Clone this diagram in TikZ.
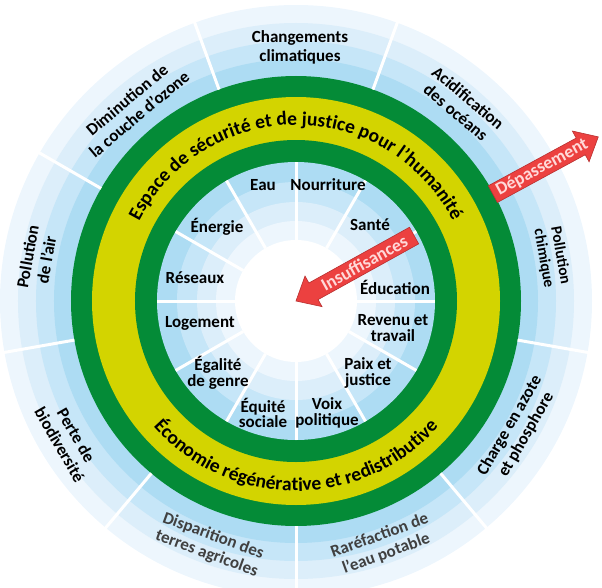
\documentclass[tikz,border=0pt]{standalone}
\usepackage{fontspec}
\setmainfont{Carlito}
\usetikzlibrary{decorations.text}
\definecolor{bandA}{HTML}{ADDCF3}
\definecolor{bandB}{HTML}{C6E6F8}
\definecolor{bandC}{HTML}{DCEEFA}
\definecolor{bandD}{HTML}{EDF6FD}
\definecolor{ringgreen}{HTML}{048B37}
\definecolor{ringyellow}{HTML}{D3D400}
\definecolor{arrowred}{HTML}{EC4140}
\definecolor{arrowedge}{HTML}{B83030}
\definecolor{arrowtext}{HTML}{FFD9D9}
\definecolor{graytext}{HTML}{404040}
\newcommand\lblfont{\bfseries\fontsize{17}{19}\selectfont}
\newcommand\inlblfont{\bfseries\fontsize{17}{15.5}\selectfont}
\newcommand\smallfont{\bfseries\fontsize{15.5}{17}\selectfont}
\newcommand\arcfont{\bfseries\fontsize{19.5}{19.5}\selectfont}
\begin{document}
\begin{tikzpicture}[x=1pt,y=1pt,
  divider/.style={draw=white, line width=3pt},
  outerlbl/.style={font=\lblfont, align=center, text=black, inner sep=0pt},
  innerlbl/.style={font=\inlblfont, align=center, text=black, inner sep=0pt},
  arrowbody/.style={fill=arrowred, draw=arrowedge, line width=0.6pt, line join=miter},
  arrowlbl/.style={font=\bfseries\fontsize{18}{18}\selectfont, text=arrowtext, inner sep=0pt, transform shape}]
\useasboundingbox (-296,-286) rectangle (306,301);
\clip (-296,-286) rectangle (306,301);
% outer bands
\fill[bandD] (0,0) circle (296);
\fill[bandC] (0,0) circle (278);
\fill[bandB] (0,0) circle (260);
\fill[bandA] (0,0) circle (242);
% rings
\fill[ringgreen] (0,0) circle (225);
\fill[ringyellow] (0,0) circle (204);
\fill[ringgreen] (0,0) circle (161);
% inner bands
\fill[bandA] (0,0) circle (139);
\fill[bandB] (0,0) circle (119);
\fill[bandC] (0,0) circle (99);
\fill[bandD] (0,0) circle (80);
\fill[white] (0,0) circle (61);
% dividers
\foreach \a in {30,70,...,350} \draw[divider] (\a:225) -- (\a:298);
\foreach \a in {0,30,...,330} \draw[divider] (\a:61) -- (\a:139);
% ring texts
\path[decorate, decoration={text along path, text align=center,
  text={|\arcfont|Espace de sécurité et de justice pour l'humanité}}]
  (178:176) arc[start angle=178, end angle=2, radius=176];
\path[decorate, decoration={text along path, text align=center,
  text={|\arcfont|Économie régénérative et redistributive}}]
  (182:190) arc[start angle=182, end angle=358, radius=190];
% outer labels
\node[outerlbl] (climat) at (4,254) {Changements\\climatiques};
\node[outerlbl, rotate=40] (ozone) at (-163,194) {Diminution de\\la couche d'ozone};
\node[outerlbl, rotate=80] (air) at (-259,43) {Pollution\\de l'air};
\node[outerlbl, rotate=-60] (biodiv) at (-228,-139) {Perte de\\biodiversité};
\node[outerlbl, rotate=-20, text=graytext] (terres) at (-86,-244) {Disparition des\\terres agricoles};
\node[outerlbl, rotate=20, text=graytext] (eaupot) at (87,-244) {Raréfaction de\\l'eau potable};
\node[outerlbl, rotate=60] (azote) at (222,-129) {Charge en azote\\et phosphore};
\node[outerlbl, rotate=-80, font=\smallfont] (chimique) at (256,44) {Pollution\\chimique};
\node[outerlbl, rotate=-40] (ocean) at (166,196) {Acidification\\des océans};
% inner labels
\node[innerlbl] (eau) at (-33,116) {Eau};
\node[innerlbl] (nourr) at (32,116) {Nourriture};
\node[innerlbl] (sante) at (74,76) {Santé};
\node[innerlbl] (educ) at (99,14) {Éducation};
\node[innerlbl] (revenu) at (97,-27) {Revenu et\\travail};
\node[innerlbl] (paix) at (72,-72) {Paix et\\justice};
\node[innerlbl] (voix) at (31,-112) {Voix\\politique};
\node[innerlbl] (equite) at (-33,-112) {Équité\\sociale};
\node[innerlbl] (egalite) at (-78,-72) {Égalité\\de genre};
\node[innerlbl] (logement) at (-96,-22) {Logement};
\node[innerlbl] (reseaux) at (-101,23) {Réseaux};
\node[innerlbl] (energie) at (-79,74) {Énergie};
% arrows
\begin{scope}[shift={(28.5:224)}, rotate=28.5]
  \path[arrowbody] (0,-9.5) -- (100,-9.5) -- (100,-17.5) -- (120,0) -- (100,17.5) -- (100,9.5) -- (0,9.5) -- cycle;
  \node[arrowlbl] (depass) at (56,0) {Dépassement};
\end{scope}
\begin{scope}[rotate=29]
  \path[arrowbody] (0,0) -- (20,17.5) -- (20,9.5) -- (135,9.5) -- (135,-9.5) -- (20,-9.5) -- (20,-17.5) -- cycle;
  \node[arrowlbl] (insuff) at (78,0) {Insuffisances};
\end{scope}
\end{tikzpicture}
\end{document}
